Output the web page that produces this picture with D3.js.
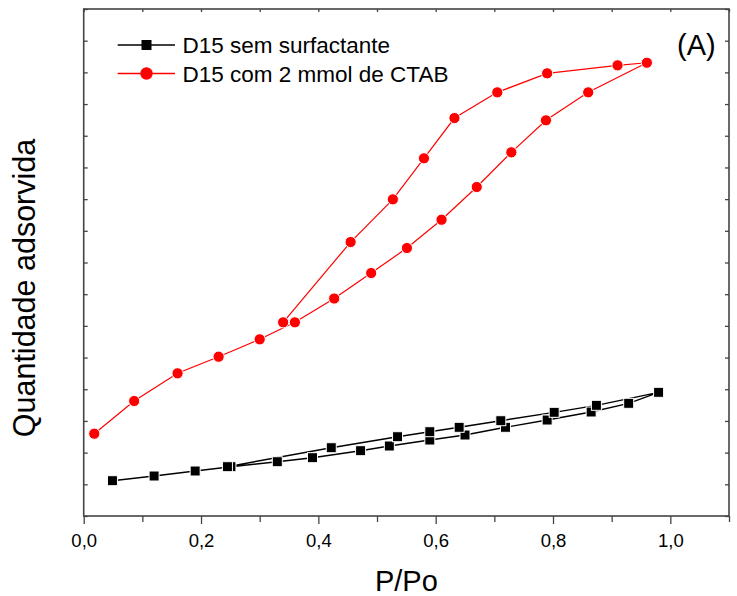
<!DOCTYPE html>
<html>
<head>
<meta charset="utf-8">
<script src="https://cdn.jsdelivr.net/npm/d3@7"></script>
<style>
  html, body { margin: 0; padding: 0; background: #ffffff; }
  svg { display: block; font-family: "Liberation Sans", Arial, sans-serif; }
</style>
</head>
<body>
<div id="chart"></div>
<script>
// relative pressure (P/Po) and adsorbed amount (arbitrary units, axis unlabeled)
const semAdsP = [0.049, 0.120, 0.190, 0.251, 0.330, 0.390, 0.472, 0.521, 0.590, 0.650, 0.719, 0.790, 0.865, 0.929, 0.980];
const semAdsQ = [1.114, 1.262, 1.420, 1.556, 1.713, 1.840, 2.061, 2.209, 2.398, 2.556, 2.799, 3.029, 3.282, 3.556, 3.903];
const semDesP = [0.874, 0.802, 0.711, 0.640, 0.590, 0.535, 0.422, 0.245];
const semDesQ = [3.493, 3.272, 3.007, 2.799, 2.660, 2.502, 2.155, 1.556];

const ctabAdsP = [0.018, 0.086, 0.160, 0.230, 0.300, 0.360, 0.427, 0.490, 0.551, 0.610, 0.670, 0.729, 0.788, 0.860, 0.960];
const ctabAdsQ = [2.597, 3.629, 4.503, 5.027, 5.576, 6.112, 6.863, 7.668, 8.457, 9.350, 10.382, 11.477, 12.487, 13.370, 14.304];
const ctabDesP = [0.910, 0.790, 0.705, 0.632, 0.580, 0.527, 0.455, 0.340];
const ctabDesQ = [14.222, 13.970, 13.370, 12.559, 11.288, 9.994, 8.646, 6.112];

const seriesNames = ["D15 sem surfactante", "D15 com 2 mmol de CTAB"];
const xMajorTicks = [0, 0.2, 0.4, 0.6, 0.8, 1.0];
const xMinorTicks = [0.1, 0.3, 0.5, 0.7, 0.9, 1.1];
const yTicks = d3.range(0, 17);

const width = 737;
const height = 596;

const x = d3.scaleLinear().domain([0, 1.1]).range([83.7, 729]);
const y = d3.scaleLinear().domain([0, 16]).range([516, 9]);

const svg = d3.select("#chart")
  .append("svg")
  .attr("width", width)
  .attr("height", height);

const fmt = (d) => d3.format(".1f")(d).replace(".", ",");
const axisColor = "#444444";

// bottom axis: major ticks with labels, minor ticks shorter, both outward
svg.append("g")
  .attr("transform", `translate(0,${y(0)})`)
  .call(d3.axisBottom(x).tickValues(xMinorTicks).tickSize(6).tickFormat(""))
  .call((g) => g.select(".domain").remove())
  .call((g) => g.selectAll("line").attr("stroke", axisColor).attr("stroke-width", 1.3));

svg.append("g")
  .attr("transform", `translate(0,${y(0)})`)
  .call(d3.axisBottom(x).tickValues(xMajorTicks).tickSize(8).tickPadding(10).tickFormat(fmt))
  .call((g) => g.select(".domain").remove())
  .call((g) => g.selectAll("line").attr("stroke", axisColor).attr("stroke-width", 1.3))
  .call((g) => g.selectAll("text")
    .attr("fill", "#000")
    .style("font-size", "18.5px")
    .style("font-family", "'Liberation Sans', Arial, sans-serif"));

// top axis: small inward ticks
svg.append("g")
  .attr("transform", `translate(0,${y(16)})`)
  .call(d3.axisTop(x).tickValues(xMajorTicks.concat(xMinorTicks)).tickSize(-3).tickFormat(""))
  .call((g) => g.select(".domain").remove())
  .call((g) => g.selectAll("line").attr("stroke", axisColor).attr("stroke-width", 1.3));

// left and right axes: unlabeled inward ticks
svg.append("g")
  .attr("transform", `translate(${x(0)},0)`)
  .call(d3.axisLeft(y).tickValues(yTicks).tickSize(-4).tickFormat(""))
  .call((g) => g.select(".domain").remove())
  .call((g) => g.selectAll("line").attr("stroke", axisColor).attr("stroke-width", 1.3));

svg.append("g")
  .attr("transform", `translate(${x(1.1)},0)`)
  .call(d3.axisRight(y).tickValues(yTicks).tickSize(-4).tickFormat(""))
  .call((g) => g.select(".domain").remove())
  .call((g) => g.selectAll("line").attr("stroke", axisColor).attr("stroke-width", 1.3));

// frame
svg.append("rect")
  .attr("x", x(0))
  .attr("y", y(16))
  .attr("width", x(1.1) - x(0))
  .attr("height", y(0) - y(16))
  .attr("fill", "none")
  .attr("stroke", axisColor)
  .attr("stroke-width", 1.6);

const line = d3.line().x((d) => x(d[0])).y((d) => y(d[1]));

const semPoints = semAdsP.map((p, i) => [p, semAdsQ[i]])
  .concat(semDesP.map((p, i) => [p, semDesQ[i]]));
const ctabPoints = ctabAdsP.map((p, i) => [p, ctabAdsQ[i]])
  .concat(ctabDesP.map((p, i) => [p, ctabDesQ[i]]));

svg.append("path")
  .datum(ctabPoints)
  .attr("d", line)
  .attr("fill", "none")
  .attr("stroke", "#ff0000")
  .attr("stroke-width", 1.2);

svg.append("path")
  .datum(semPoints)
  .attr("d", line)
  .attr("fill", "none")
  .attr("stroke", "#000000")
  .attr("stroke-width", 1.4);

svg.append("g")
  .selectAll("circle")
  .data(ctabPoints)
  .enter()
  .append("circle")
  .attr("cx", (d) => x(d[0]))
  .attr("cy", (d) => y(d[1]))
  .attr("r", 5.6)
  .attr("fill", "#ff0000")
  .attr("stroke", "#ffffff")
  .attr("stroke-width", 1);

const sq = 10;
svg.append("g")
  .selectAll("rect")
  .data(semPoints)
  .enter()
  .append("rect")
  .attr("x", (d) => x(d[0]) - sq / 2)
  .attr("y", (d) => y(d[1]) - sq / 2)
  .attr("width", sq)
  .attr("height", sq)
  .attr("fill", "#000000")
  .attr("stroke", "#ffffff")
  .attr("stroke-width", 1);

// legend
const legend = svg.append("g");
const legendRows = [
  { name: seriesNames[0], color: "#000000", shape: "square", cy: 45 },
  { name: seriesNames[1], color: "#ff0000", shape: "circle", cy: 73.5 }
];

legendRows.forEach((row) => {
  legend.append("line")
    .attr("x1", 117.7)
    .attr("x2", 175)
    .attr("y1", row.cy)
    .attr("y2", row.cy)
    .attr("stroke", row.color)
    .attr("stroke-width", 1.3);

  if (row.shape === "square") {
    legend.append("rect")
      .attr("x", 146.5 - sq / 2)
      .attr("y", row.cy - sq / 2)
      .attr("width", sq)
      .attr("height", sq)
      .attr("fill", row.color);
  } else {
    legend.append("circle")
      .attr("cx", 146.5)
      .attr("cy", row.cy)
      .attr("r", 6.2)
      .attr("fill", row.color);
  }

  legend.append("text")
    .attr("x", 182.5)
    .attr("y", row.cy + 8.3)
    .attr("fill", "#000")
    .attr("font-size", 22.5)
    .text(row.name);
});

svg.append("text")
  .attr("x", 677)
  .attr("y", 55)
  .attr("fill", "#000")
  .attr("font-size", 29)
  .text("(A)");

// axis titles
svg.append("text")
  .attr("x", (x(0) + x(1.1)) / 2)
  .attr("y", 591)
  .attr("text-anchor", "middle")
  .attr("fill", "#000")
  .attr("font-size", 29)
  .text("P/Po");

svg.append("text")
  .attr("transform", "translate(35,288) rotate(-90)")
  .attr("text-anchor", "middle")
  .attr("fill", "#000")
  .attr("font-size", 30.5)
  .text("Quantidade adsorvida");
</script>
</body>
</html>
